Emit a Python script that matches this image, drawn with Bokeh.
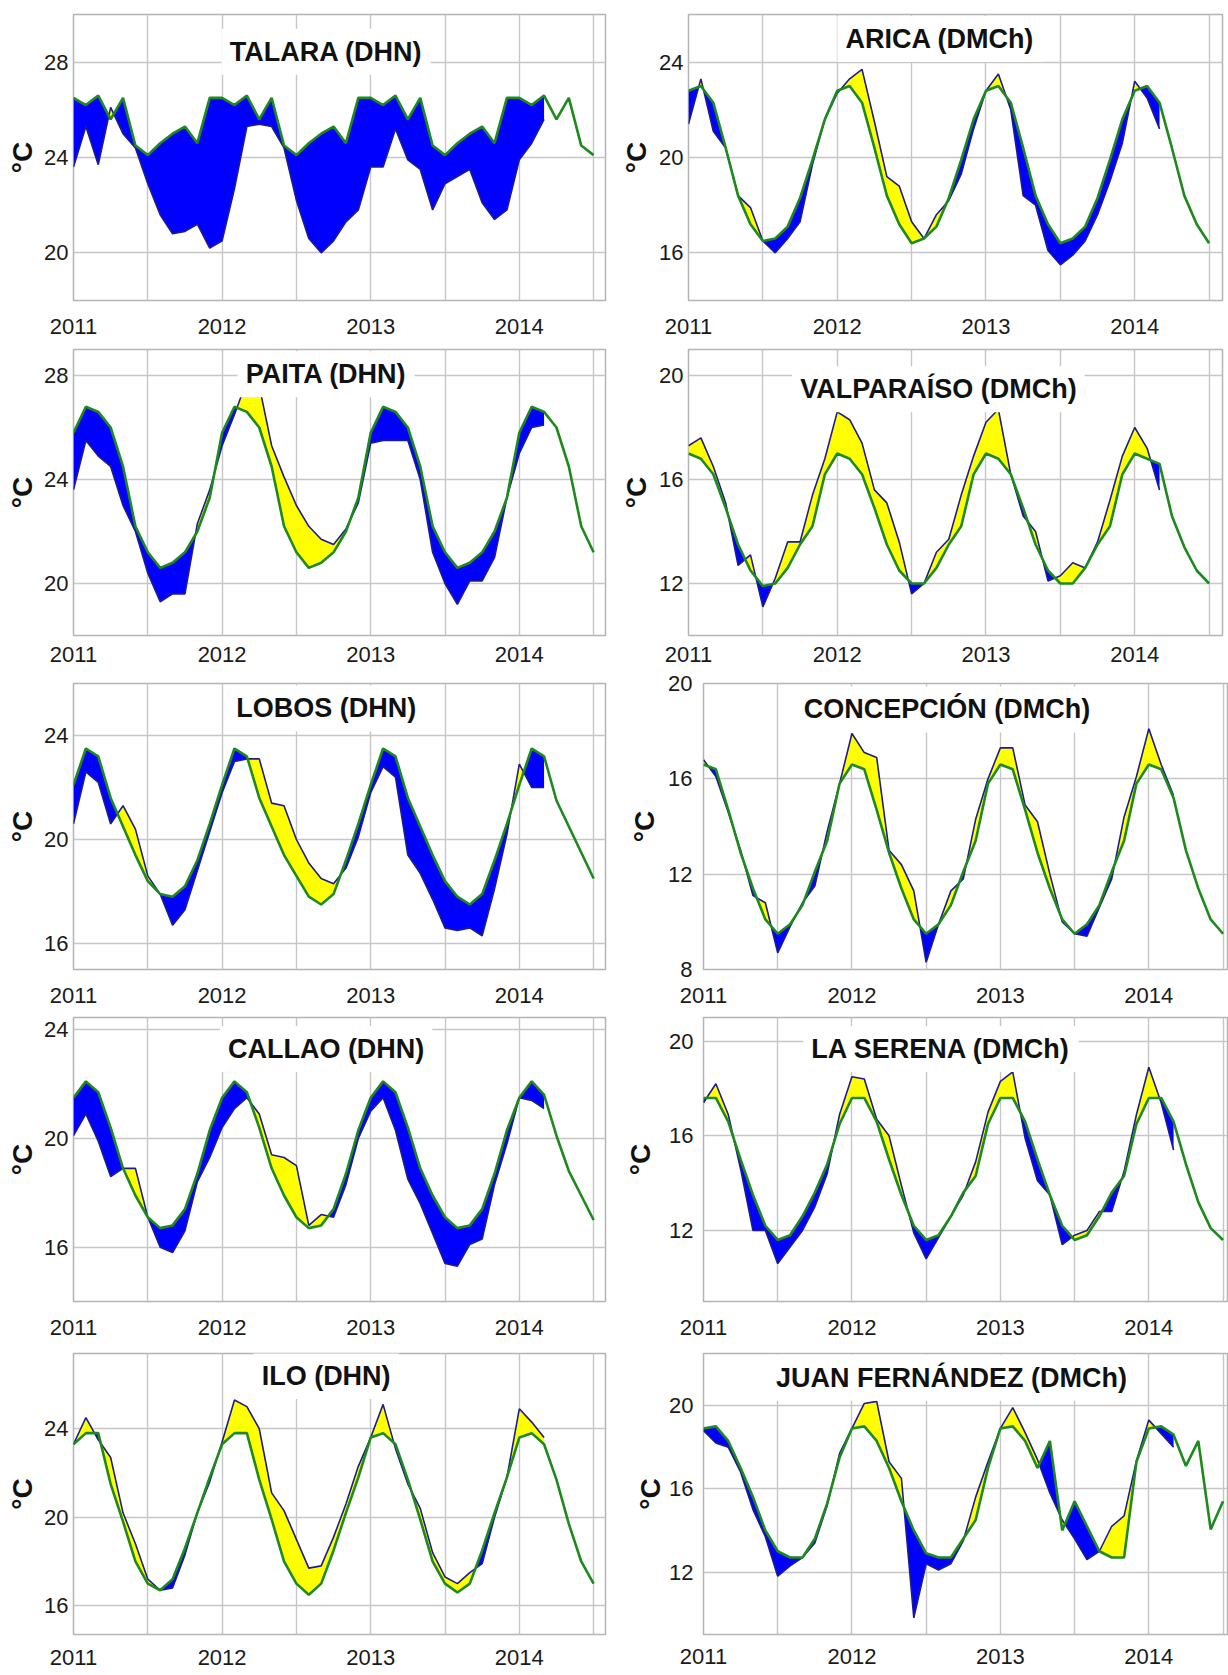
import numpy as np
from bokeh.plotting import figure
from bokeh.models import Range1d, FixedTicker, Label
from bokeh.layouts import column, row
from bokeh.embed import file_html
from bokeh.resources import INLINE

FONT = "Liberation Sans"

# monthly time axis: Jan 2011 ... Jul 2014 (decimal years)
months = [2011 + k / 12 for k in range(43)]
year_ticks = [2011, 2012, 2013, 2014]
half_year_grid = [2011, 2011.5, 2012, 2012.5, 2013, 2013.5, 2014, 2014.5]

# ---------------- data (°C) : observed (Jan 2011 - Mar 2014), climatology (Jan 2011 - Jul 2014)
talara_obs = [23.6, 25.3, 23.7, 26.1, 25.0, 24.4, 22.9, 21.6, 20.8, 20.9, 21.2, 20.2,
              20.5, 22.7, 25.3, 25.4, 25.3, 24.4, 22.2, 20.6, 20.0, 20.5, 21.3, 21.8,
              23.6, 23.6, 25.2, 23.9, 23.5, 21.8, 22.9, 23.2, 23.5, 22.1, 21.4, 21.8,
              23.9, 24.6, 25.6]
talara_clim = [26.5, 26.2, 26.6, 25.6, 26.5, 24.5, 24.1, 24.6, 25.0, 25.3, 24.6, 26.5,
               26.5, 26.2, 26.6, 25.6, 26.5, 24.5, 24.1, 24.6, 25.0, 25.3, 24.6, 26.5,
               26.5, 26.2, 26.6, 25.6, 26.5, 24.5, 24.1, 24.6, 25.0, 25.3, 24.6, 26.5,
               26.5, 26.2, 26.6, 25.6, 26.5, 24.5, 24.1]

arica_obs = [21.4, 23.3, 21.1, 20.4, 18.4, 17.9, 16.5, 16.0, 16.6, 17.3, 19.7, 21.6,
             22.7, 23.3, 23.7, 21.5, 19.2, 18.8, 17.3, 16.6, 17.6, 18.2, 19.3, 21.2,
             22.8, 23.5, 22.0, 18.4, 18.0, 16.1, 15.5, 15.9, 16.5, 17.6, 19.0, 20.6,
             23.2, 22.5, 21.2]
arica_clim = [22.8, 23.0, 22.3, 20.4, 18.4, 17.2, 16.5, 16.6, 17.1, 18.3, 19.9, 21.6,
              22.8, 23.0, 22.3, 20.4, 18.4, 17.2, 16.4, 16.6, 17.1, 18.3, 19.9, 21.6,
              22.8, 23.0, 22.3, 20.4, 18.4, 17.2, 16.4, 16.6, 17.1, 18.3, 19.9, 21.6,
              22.8, 23.0, 22.3, 20.4, 18.4, 17.2, 16.4]

paita_obs = [23.6, 25.5, 24.9, 24.5, 23.0, 22.0, 20.4, 19.3, 19.6, 19.6, 22.3, 23.6,
             25.3, 26.5, 27.8, 27.6, 25.3, 24.1, 23.0, 22.2, 21.7, 21.5, 22.1, 23.1,
             25.4, 25.5, 25.5, 25.5, 24.0, 21.2, 20.0, 19.2, 20.1, 20.1, 21.0, 23.3,
             25.0, 26.0, 26.1]
paita_clim = [25.8, 26.8, 26.6, 26.0, 24.5, 22.2, 21.2, 20.6, 20.8, 21.2, 22.0, 23.3,
              25.8, 26.8, 26.6, 26.0, 24.5, 22.2, 21.2, 20.6, 20.8, 21.2, 22.0, 23.3,
              25.8, 26.8, 26.6, 26.0, 24.5, 22.2, 21.2, 20.6, 20.8, 21.2, 22.0, 23.3,
              25.8, 26.8, 26.6, 26.0, 24.5, 22.2, 21.2]

valparaiso_obs = [17.3, 17.6, 16.5, 15.1, 12.7, 13.1, 11.1, 12.2, 13.6, 13.6, 15.4, 16.8,
                  18.6, 18.3, 17.4, 15.6, 15.1, 13.6, 11.6, 12.0, 13.2, 13.7, 15.4, 16.9,
                  18.2, 18.7, 16.2, 14.6, 14.0, 12.1, 12.3, 12.8, 12.6, 13.6, 15.2, 16.9,
                  18.0, 17.2, 15.6]
valparaiso_clim = [17.0, 16.8, 16.2, 14.9, 13.5, 12.5, 11.9, 12.0, 12.6, 13.5, 14.2, 16.2,
                   17.0, 16.8, 16.2, 14.9, 13.5, 12.5, 12.0, 12.0, 12.6, 13.5, 14.2, 16.2,
                   17.0, 16.8, 16.2, 14.9, 13.5, 12.5, 12.0, 12.0, 12.6, 13.5, 14.2, 16.2,
                   17.0, 16.8, 16.6, 14.6, 13.4, 12.5, 12.0]

lobos_obs = [20.6, 22.6, 22.2, 20.6, 21.3, 20.4, 18.6, 17.9, 16.7, 17.3, 18.8, 20.3,
             21.8, 23.0, 23.1, 23.1, 21.4, 21.3, 20.0, 19.1, 18.5, 18.3, 18.9, 20.1,
             21.8, 22.8, 22.4, 19.4, 18.7, 17.7, 16.6, 16.5, 16.6, 16.3, 18.1, 20.2,
             22.9, 22.0, 22.0]
lobos_clim = [22.1, 23.5, 23.2, 21.6, 20.5, 19.4, 18.4, 17.9, 17.8, 18.2, 19.2, 20.6,
              22.1, 23.5, 23.2, 21.6, 20.5, 19.4, 18.6, 17.8, 17.5, 17.9, 19.2, 20.6,
              22.1, 23.5, 23.2, 21.6, 20.5, 19.4, 18.4, 17.8, 17.5, 17.9, 19.2, 20.6,
              22.1, 23.5, 23.2, 21.5, 20.5, 19.5, 18.5]

concepcion_obs = [16.8, 16.1, 14.6, 13.0, 11.1, 10.8, 8.7, 9.8, 10.8, 11.5, 13.8, 15.8,
                  17.9, 17.1, 16.9, 13.0, 12.4, 11.3, 8.3, 9.9, 11.3, 11.8, 14.3, 16.0,
                  17.3, 17.3, 14.9, 14.2, 12.0, 10.0, 9.5, 9.4, 10.6, 11.8, 14.4, 16.1,
                  18.1, 16.6, 15.3]
concepcion_clim = [16.6, 16.4, 14.7, 12.9, 11.4, 10.1, 9.5, 9.9, 10.7, 12.1, 13.4, 15.8,
                   16.6, 16.4, 14.7, 12.9, 11.4, 10.1, 9.5, 9.9, 10.7, 12.1, 13.4, 15.8,
                   16.6, 16.4, 14.7, 12.9, 11.4, 10.1, 9.5, 9.9, 10.7, 12.1, 13.4, 15.8,
                   16.6, 16.4, 15.2, 13.0, 11.4, 10.1, 9.5]

callao_obs = [20.1, 20.9, 19.9, 18.6, 18.9, 18.9, 17.1, 16.0, 15.8, 16.6, 18.4, 19.3,
              20.4, 21.1, 21.5, 20.9, 19.4, 19.3, 19.0, 16.8, 17.2, 17.1, 18.3, 20.0,
              21.0, 21.5, 20.3, 18.5, 17.6, 16.5, 15.4, 15.3, 16.1, 16.3, 18.3, 19.8,
              21.5, 21.4, 21.1]
callao_clim = [21.5, 22.1, 21.7, 20.4, 18.9, 17.9, 17.1, 16.7, 16.8, 17.4, 18.7, 20.3,
               21.5, 22.1, 21.7, 20.4, 18.9, 17.9, 17.1, 16.7, 16.8, 17.4, 18.7, 20.3,
               21.5, 22.1, 21.7, 20.4, 18.9, 17.9, 17.1, 16.7, 16.8, 17.4, 18.7, 20.3,
               21.5, 22.1, 21.6, 20.1, 18.8, 17.9, 17.0]

laserena_obs = [17.4, 18.2, 16.9, 14.6, 12.0, 12.0, 10.6, 11.3, 12.0, 13.0, 14.4, 16.9,
                18.5, 18.4, 16.7, 16.0, 13.9, 11.9, 10.8, 11.7, 12.6, 13.5, 14.9, 17.0,
                18.3, 18.7, 15.9, 14.1, 13.5, 11.4, 11.8, 12.0, 12.8, 12.8, 14.5, 16.9,
                18.9, 17.4, 15.4]
laserena_clim = [17.6, 17.6, 16.6, 15.0, 13.5, 12.2, 11.6, 11.8, 12.6, 13.6, 14.8, 16.5,
                 17.6, 17.6, 16.6, 15.0, 13.5, 12.2, 11.6, 11.8, 12.6, 13.6, 14.3, 16.5,
                 17.6, 17.6, 16.6, 15.0, 13.5, 12.2, 11.6, 11.8, 12.6, 13.6, 14.3, 16.5,
                 17.6, 17.6, 16.6, 14.8, 13.2, 12.1, 11.6]

ilo_obs = [23.3, 24.5, 23.5, 22.7, 20.2, 18.8, 17.2, 16.7, 16.8, 18.3, 20.2, 21.6,
           23.4, 25.3, 25.0, 24.0, 21.1, 20.3, 19.0, 17.7, 17.8, 19.1, 20.6, 22.3,
           23.6, 25.1, 23.1, 21.5, 20.4, 18.4, 17.3, 17.0, 17.5, 17.9, 20.0, 21.8,
           24.9, 24.3, 23.6]
ilo_clim = [23.3, 23.8, 23.8, 21.5, 19.8, 18.0, 17.0, 16.7, 17.2, 18.6, 20.2, 21.8,
            23.3, 23.8, 23.8, 21.7, 19.9, 18.0, 17.0, 16.5, 17.0, 18.5, 20.2, 21.8,
            23.6, 23.8, 23.3, 21.7, 19.9, 18.0, 17.0, 16.6, 17.0, 18.5, 20.2, 21.8,
            23.6, 23.8, 23.3, 21.7, 19.7, 18.0, 17.0]

juanfernandez_obs = [18.8, 18.2, 18.0, 16.8, 15.0, 13.7, 11.8, 12.3, 12.7, 13.4, 15.2, 17.7,
                     18.9, 20.1, 20.2, 17.3, 16.5, 9.8, 12.4, 12.1, 12.4, 13.5, 15.6, 17.3,
                     18.9, 19.9, 18.7, 17.4, 15.8, 14.5, 13.6, 12.6, 13.0, 14.2, 14.7, 17.35,
                     19.3, 18.65, 18.0]
juanfernandez_clim = [18.9, 19.0, 18.3, 17.0, 15.6, 14.0, 13.0, 12.7, 12.7, 13.6, 15.3, 17.5,
                      18.9, 19.0, 18.3, 17.0, 15.4, 14.0, 12.9, 12.7, 12.7, 13.6, 14.5, 17.0,
                      18.9, 19.0, 18.3, 17.0, 18.3, 14.0, 15.4, 14.2, 13.0, 12.7, 12.7, 17.3,
                      18.9, 19.0, 18.6, 17.1, 18.3, 14.05, 15.4]

# ---------------- panel settings
panels = [
    # title, obs, clim, ylo, yhi, yticks, title_x, title_y, column type, x end
    ("TALARA (DHN)", talara_obs, talara_clim, 18, 30, [20, 24, 28], 2012.70, 28.44, "L", 2014.58),
    ("ARICA (DMCh)", arica_obs, arica_clim, 14, 26, [16, 20, 24], 2012.69, 24.97, "R1", 2014.59),
    ("PAITA (DHN)", paita_obs, paita_clim, 18, 29, [20, 24, 28], 2012.70, 28.05, "L", 2014.58),
    ("VALPARAÍSO (DMCh)", valparaiso_obs, valparaiso_clim, 10, 21, [12, 16, 20], 2012.68, 19.47, "R1", 2014.59),
    ("LOBOS (DHN)", lobos_obs, lobos_clim, 15, 26, [16, 20, 24], 2012.70, 25.04, "L", 2014.58),
    ("CONCEPCIÓN (DMCh)", concepcion_obs, concepcion_clim, 8, 20, [8, 12, 16, 20], 2012.64, 18.91, "R2", 2014.53),
    ("CALLAO (DHN)", callao_obs, callao_clim, 14, 24.45, [16, 20, 24], 2012.70, 23.29, "L", 2014.58),
    ("LA SERENA (DMCh)", laserena_obs, laserena_clim, 9, 21, [12, 16, 20], 2012.60, 19.67, "R2", 2014.53),
    ("ILO (DHN)", ilo_obs, ilo_clim, 14.7, 27.4, [16, 20, 24], 2012.70, 26.38, "L", 2014.58),
    ("JUAN FERNÁNDEZ (DMCh)", juanfernandez_obs, juanfernandez_clim, 9, 22.5, [12, 16, 20], 2012.67, 21.34, "R2", 2014.53),
]

# per row: (top border, frame height, bottom border, x label standoff)
row_geom = [(14, 286, 45, 18), (4, 286, 36, 11), (12, 286, 44, 18), (4, 284, 43, 18), (4, 286, 40, 15)]
# per panel y-axis: (left border, right border, tick label standoff, axis label standoff)
yaxis_geom = {
    "TALARA (DHN)": (73, 9, 5, 3), "PAITA (DHN)": (73, 9, 5, 3), "LOBOS (DHN)": (73, 9, 5, 3),
    "CALLAO (DHN)": (73, 9, 5, 3), "ILO (DHN)": (73, 9, 5, 3),
    "ARICA (DMCh)": (74, 6, 5, 4), "VALPARAÍSO (DMCh)": (74, 6, 5, 4),
    "CONCEPCIÓN (DMCh)": (89, 1, 11, 5), "LA SERENA (DMCh)": (89, 1, 10, 10),
    "JUAN FERNÁNDEZ (DMCh)": (89, 1, 10, 0),
}


def split_at_crossings(x, obs, clim):
    """Insert the crossing points of the two curves so fills change colour exactly there."""
    xs, o, c = [x[0]], [obs[0]], [clim[0]]
    for k in range(len(obs) - 1):
        d0 = obs[k] - clim[k]
        d1 = obs[k + 1] - clim[k + 1]
        if d0 * d1 < 0:
            t = d0 / (d0 - d1)
            xc = x[k] + t * (x[k + 1] - x[k])
            yc = clim[k] + t * (clim[k + 1] - clim[k])
            xs.append(xc); o.append(yc); c.append(yc)
        xs.append(x[k + 1]); o.append(obs[k + 1]); c.append(clim[k + 1])
    return np.array(xs), np.array(o), np.array(c)


def make_panel(spec, rowidx):
    title, obs, clim, ylo, yhi, yticks, tx, ty, col, xend = spec
    bl, br, lab_so, axl_so = yaxis_geom[title]
    bt, fh, bb, xso = row_geom[rowidx]
    if title.startswith("JUAN"):
        bt, fh, bb, xso = 9, 282, 39, 14
    width = 614
    height = bt + fh + bb

    p = figure(width=width, height=height, output_backend="svg", toolbar_location=None,
               x_range=Range1d(2011, xend), y_range=Range1d(ylo, yhi),
               min_border_left=bl, min_border_right=br, min_border_top=bt, min_border_bottom=bb,
               background_fill_color="white", border_fill_color="white")
    p.outline_line_color = "#b4b4b4"
    p.outline_line_width = 1.5

    p.xgrid.ticker = FixedTicker(ticks=half_year_grid)
    p.ygrid.ticker = FixedTicker(ticks=yticks)
    for g in (p.xgrid, p.ygrid):
        g.grid_line_color = "#c6c6c6"
        g.grid_line_width = 1.4

    p.xaxis.ticker = FixedTicker(ticks=year_ticks)
    p.yaxis.ticker = FixedTicker(ticks=yticks)
    for ax in (p.xaxis, p.yaxis):
        ax.axis_line_color = None
        ax.major_tick_line_color = None
        ax.minor_tick_line_color = None
        ax.major_tick_out = 0
        ax.major_tick_in = 0
        ax.major_label_text_font = FONT
        ax.major_label_text_font_size = "22px"
        ax.major_label_text_color = "#1a1a1a"
    p.xaxis.major_label_standoff = xso
    p.yaxis.major_label_standoff = lab_so
    p.yaxis.axis_label = "°C"
    p.yaxis.axis_label_text_font = FONT
    p.yaxis.axis_label_text_font_style = "bold"
    p.yaxis.axis_label_text_font_size = "28px"
    p.yaxis.axis_label_text_color = "#111111"
    p.yaxis.axis_label_standoff = axl_so

    n = len(obs)
    xo = np.array(months[:n])
    xs, o, c = split_at_crossings(xo, np.array(obs, float), np.array(clim[:n], float))
    p.varea(x=xs, y1=c, y2=np.maximum(o, c), fill_color="#ffff00")
    p.varea(x=xs, y1=np.minimum(o, c), y2=c, fill_color="#0000ff")
    p.line(months[:n], obs, line_color="#1c1c8e", line_width=1.6)
    p.line(months[:len(clim)], clim, line_color="#1e8a1e", line_width=2.6)

    p.add_layout(Label(x=tx, y=ty, text=title, text_align="center", text_baseline="middle",
                       text_font=FONT, text_font_style="bold", text_font_size="27px",
                       text_color="#111111", background_fill_color="white",
                       background_fill_alpha=1.0, padding=8))
    return p


figs = [make_panel(spec, i // 2) for i, spec in enumerate(panels)]
layout = column(*[row(figs[2 * r], figs[2 * r + 1]) for r in range(5)])

html = file_html(layout, INLINE, "SST")
open("out.html", "w").write(html)
